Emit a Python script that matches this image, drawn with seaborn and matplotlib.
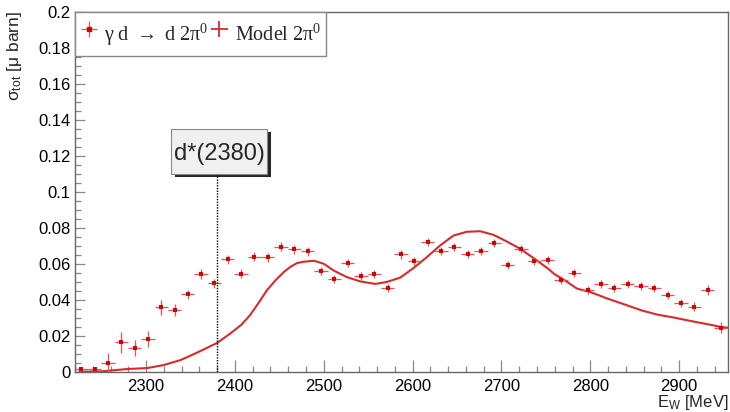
import numpy as np
import pandas as pd
import matplotlib
matplotlib.use("Agg")
import matplotlib.pyplot as plt
import matplotlib.patheffects as pe
from matplotlib.patches import Rectangle
from matplotlib.legend_handler import HandlerErrorbar
from matplotlib.ticker import MultipleLocator, FuncFormatter
import seaborn as sns

# Measured total cross section, gamma d -> d 2pi0 (15 MeV bins)
energy = [2227, 2242, 2257, 2272, 2287, 2302, 2317, 2332, 2347, 2362,
          2377, 2392, 2407, 2422, 2437, 2452, 2467, 2482, 2497, 2512,
          2527, 2542, 2557, 2572, 2587, 2602, 2617, 2632, 2647, 2662,
          2677, 2692, 2707, 2722, 2737, 2752, 2767, 2782, 2797, 2812,
          2827, 2842, 2857, 2872, 2887, 2902, 2917, 2932, 2947]
sigma = [0.0013, 0.0015, 0.0046, 0.0163, 0.0133, 0.0181, 0.0358, 0.0344, 0.0432, 0.0543,
         0.0493, 0.0626, 0.0545, 0.0639, 0.0637, 0.0696, 0.0680, 0.0670, 0.0558, 0.0515,
         0.0602, 0.0530, 0.0545, 0.0464, 0.0654, 0.0615, 0.0722, 0.0672, 0.0691, 0.0654,
         0.0672, 0.0717, 0.0593, 0.0684, 0.0615, 0.0622, 0.0512, 0.0551, 0.0453, 0.0486,
         0.0464, 0.0486, 0.0475, 0.0464, 0.0425, 0.0382, 0.0362, 0.0454, 0.0244]
sigma_err = [0.0010, 0.0010, 0.0060, 0.0060, 0.0045, 0.0045, 0.0040, 0.0035, 0.0025, 0.0030,
             0.0025, 0.0025, 0.0025, 0.0025, 0.0025, 0.0025, 0.0025, 0.0025, 0.0022, 0.0022,
             0.0022, 0.0022, 0.0022, 0.0022, 0.0025, 0.0025, 0.0022, 0.0022, 0.0022, 0.0022,
             0.0022, 0.0022, 0.0022, 0.0022, 0.0022, 0.0022, 0.0022, 0.0022, 0.0022, 0.0022,
             0.0022, 0.0022, 0.0022, 0.0022, 0.0022, 0.0025, 0.0025, 0.0030, 0.0030]
bin_half_width = 7.5

# Model prediction
model_energy = [2225, 2250, 2279, 2301, 2320, 2339, 2357, 2380, 2395, 2407,
                2417, 2427, 2436, 2446, 2455, 2463, 2470, 2477, 2483, 2489,
                2500, 2511, 2526, 2541, 2558, 2571, 2586, 2601, 2616, 2631,
                2646, 2661, 2676, 2691, 2706, 2721, 2736, 2753, 2759, 2774,
                2785, 2800, 2819, 2838, 2857, 2875, 2894, 2912, 2932, 2947,
                2956]
model_sigma = [0.0000, 0.0002, 0.0015, 0.0020, 0.0037, 0.0065, 0.0105, 0.0160, 0.0213, 0.0260,
               0.0314, 0.0385, 0.0453, 0.0510, 0.0554, 0.0585, 0.0604, 0.0611, 0.0614, 0.0617,
               0.0600, 0.0563, 0.0526, 0.0502, 0.0488, 0.0499, 0.0523, 0.0576, 0.0637, 0.0702,
               0.0757, 0.0778, 0.0781, 0.0761, 0.0724, 0.0684, 0.0632, 0.0571, 0.0545, 0.0499,
               0.0462, 0.0443, 0.0407, 0.0375, 0.0342, 0.0318, 0.0301, 0.0283, 0.0264, 0.0249,
               0.0244]

resonance_mass = 2380
resonance_label = "d*(2380)"
data_label = r"γ d$\;{\rightarrow}\;$d 2π$^{\mathdefault{0}}$"
model_label = r"Model 2π$^{\mathdefault{0}}$"

data_df = pd.DataFrame({"E": energy, "sigma": sigma, "err": sigma_err})
model_df = pd.DataFrame({"E": model_energy, "sigma": model_sigma})

sns.set_style("ticks")
plt.rcParams["font.family"] = ["Liberation Sans", "DejaVu Sans"]
plt.rcParams["mathtext.fontset"] = "custom"
plt.rcParams["mathtext.rm"] = "Liberation Sans"
plt.rcParams["mathtext.it"] = "Liberation Sans:italic"
plt.rcParams["mathtext.fallback"] = "stix"

W, H = 730, 412
fig = plt.figure(figsize=(W / 100, H / 100), dpi=100)
ax = fig.add_axes([75 / W, 1 - 371.7 / H, (728 - 75) / W, (371.7 - 12) / H])

data_red = "#d60000"
bar_red = "#e25555"
model_red = "#d42c2c"

# model curve
sns.lineplot(data=model_df, x="E", y="sigma", color=model_red, lw=1.5, ax=ax,
             legend=False, zorder=3)

# data with error bars
ax.errorbar(data_df["E"], data_df["sigma"], xerr=bin_half_width, yerr=data_df["err"],
            fmt="none", ecolor=bar_red, elinewidth=0.9, capsize=0, zorder=4)
sns.scatterplot(data=data_df, x="E", y="sigma", marker="s", s=10, color=data_red,
                edgecolor=data_red, linewidth=0, ax=ax, legend=False, zorder=5)

ax.set_xlim(2220, 2955)
ax.set_ylim(0, 0.2)
ax.set_xlabel("")
ax.set_ylabel("")

ax.xaxis.set_major_locator(MultipleLocator(100))
ax.xaxis.set_minor_locator(MultipleLocator(20))
ax.yaxis.set_major_locator(MultipleLocator(0.02))
ax.yaxis.set_minor_locator(MultipleLocator(0.005))
ax.yaxis.set_major_formatter(FuncFormatter(lambda v, p: "%g" % round(v, 4)))

frame_col = "#666666"
for s in ax.spines.values():
    s.set_color(frame_col)
    s.set_linewidth(1.0)
ax.tick_params(axis="both", which="both", direction="in", color="#888888",
               labelcolor="black", labelsize=12, width=0.9)
ax.tick_params(axis="x", which="major", length=8.5, pad=5)
ax.tick_params(axis="x", which="minor", length=4.5)
ax.tick_params(axis="y", which="major", length=7.5, pad=3)
ax.tick_params(axis="y", which="minor", length=4.5)

# axis titles
fig.text(728 / W, 1 - 407 / H, r"E$_{\mathrm{W}}$ [MeV]", ha="right", va="baseline",
         fontsize=12)
fig.text(15 / W, 1 - 11 / H, r"σ$_{\mathrm{tot}}$ [μ barn]", ha="center", va="top",
         rotation=90, fontsize=12.5)

# resonance marker: dotted line up to a shadowed label box
box_x0, box_x1 = 2328.5, 2436.5
box_y0, box_y1 = 0.110, 0.135
ax.plot([resonance_mass, resonance_mass], [0, box_y0], color="black", lw=1.0,
        ls=(0, (1, 1)), zorder=6)
box = Rectangle((box_x0, box_y0), box_x1 - box_x0, box_y1 - box_y0,
                fc="#f0f0f0", ec="#888888", lw=0.8, zorder=7)
box.set_path_effects([
    pe.SimplePatchShadow(offset=(2.5, -2.5), shadow_rgbFace="black", alpha=0.85),
    pe.Normal()])
ax.add_patch(box)
ax.text((box_x0 + box_x1) / 2, 0.1177, resonance_label, ha="center", va="baseline",
        fontsize=17, zorder=8)

# legend
data_handle = ax.errorbar([np.nan], [np.nan], xerr=[1], yerr=[1], fmt="s", ms=3,
                          color=data_red, ecolor=bar_red, elinewidth=0.9, capsize=0)
model_handle = ax.errorbar([np.nan], [np.nan], xerr=[1], yerr=[1], fmt="none",
                           ecolor=model_red, elinewidth=1.3, capsize=0)
leg = ax.legend([data_handle, model_handle], [data_label, model_label],
                loc="upper left", bbox_to_anchor=(0, 1), borderaxespad=0,
                ncol=2, frameon=True, fancybox=False, framealpha=1,
                handlelength=0.9, handleheight=2.25, handletextpad=0.3,
                columnspacing=0.1, borderpad=0.25,
                handler_map={type(data_handle): HandlerErrorbar(xerr_size=0.4,
                                                                yerr_size=0.4)},
                prop={"family": ["Liberation Serif", "DejaVu Serif"], "size": 14.5})
leg.get_frame().set_edgecolor("#888888")
leg.get_frame().set_linewidth(1.0)

fig.savefig("out.png", dpi=100)
